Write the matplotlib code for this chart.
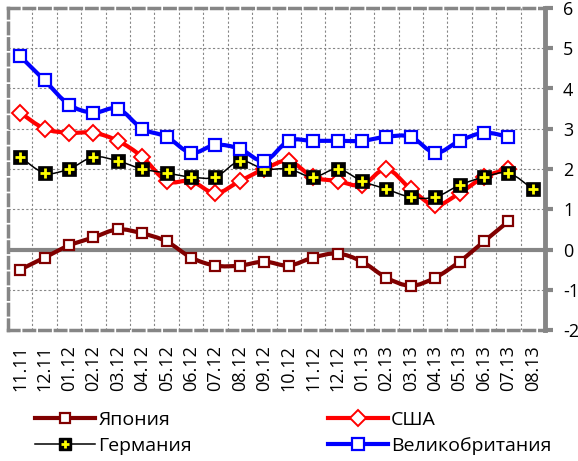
import numpy as np
import matplotlib.pyplot as plt
from matplotlib.path import Path
from matplotlib.patches import PathPatch
from matplotlib.lines import Line2D

plt.rcParams['font.family'] = ['Open Sans', 'DejaVu Sans']
plt.rcParams['axes.unicode_minus'] = False

months = ['11.11', '12.11', '01.12', '02.12', '03.12', '04.12', '05.12', '06.12',
          '07.12', '08.12', '09.12', '10.12', '11.12', '12.12', '01.13', '02.13',
          '03.13', '04.13', '05.13', '06.13', '07.13', '08.13']

japan = [-0.5, -0.2, 0.1, 0.3, 0.5, 0.4, 0.2, -0.2, -0.4, -0.4, -0.3, -0.4,
         -0.2, -0.1, -0.3, -0.7, -0.9, -0.7, -0.3, 0.2, 0.7]
usa = [3.4, 3.0, 2.9, 2.9, 2.7, 2.3, 1.7, 1.7, 1.4, 1.7, 2.0, 2.2,
       1.8, 1.7, 1.6, 2.0, 1.5, 1.1, 1.4, 1.8, 2.0]
germany = [2.3, 1.9, 2.0, 2.3, 2.2, 2.0, 1.9, 1.8, 1.8, 2.2, 2.0, 2.0,
           1.8, 2.0, 1.7, 1.5, 1.3, 1.3, 1.6, 1.8, 1.9, 1.5]
uk = [4.8, 4.2, 3.6, 3.4, 3.5, 3.0, 2.8, 2.4, 2.6, 2.5, 2.2, 2.7,
      2.7, 2.7, 2.7, 2.8, 2.8, 2.4, 2.7, 2.9, 2.8]

GRAY = '#868686'


def smooth_path(values):
    # cubic Bezier segments through every point (Catmull-Rom style)
    pts = np.column_stack([np.arange(len(values)), values]).astype(float)
    n = len(pts)
    verts = [pts[0]]
    codes = [Path.MOVETO]
    for i in range(n - 1):
        p0 = pts[max(i - 1, 0)]
        p1 = pts[i]
        p2 = pts[i + 1]
        p3 = pts[min(i + 2, n - 1)]
        verts += [p1 + (p2 - p0) / 6, p2 - (p3 - p1) / 6, p2]
        codes += [Path.CURVE4] * 3
    return Path(verts, codes)


fig = plt.figure(figsize=(5.78, 4.61), dpi=100)
ax = fig.add_axes([8 / 578, 1 - 330 / 461, 537 / 578, 322 / 461])

ax.set_xlim(-0.5, len(months) - 0.5)
ax.set_ylim(-2, 6)

# grid between categories and at every integer
for xb in np.arange(0.5, len(months) - 0.5, 1):
    ax.axvline(xb, color=GRAY, lw=0.8, ls=(0, (2, 2)), zorder=0)
for yv in range(-1, 6):
    ax.axhline(yv, color=GRAY, lw=0.8, ls=(0, (2, 2)), zorder=0)
ax.axhline(0, color=GRAY, lw=3, zorder=1)

styles = {
    'jp': dict(color='#800000', lw=3, marker='s', ms=7, mfc='white',
               mec='#800000', mew=1.6),
    'us': dict(color='#ff0000', lw=3, marker='D', ms=8, mfc='white',
               mec='#ff0000', mew=1.4),
    'de': dict(color='black', lw=1.1, marker='s', ms=10, mfc='black',
               mec='black', mew=0.5),
    'uk': dict(color='#0000ff', lw=3, marker='s', ms=8, mfc='white',
               mec='#0000ff', mew=1.6),
}
series = [(japan, 'jp'), (usa, 'us'), (germany, 'de'), (uk, 'uk')]

for z, (vals, key) in enumerate(series):
    st = styles[key]
    z0 = 2 + 2 * z
    ax.add_patch(PathPatch(smooth_path(vals), fill=False, edgecolor=st['color'],
                           lw=st['lw'], capstyle='round', joinstyle='round',
                           zorder=z0))
    ax.plot(range(len(vals)), vals, ls='none', marker=st['marker'], ms=st['ms'],
            mfc=st['mfc'], mec=st['mec'], mew=st['mew'], zorder=z0 + 1)
    if key == 'de':
        ax.plot(range(len(vals)), vals, ls='none', marker='+', ms=7, mew=2,
                color='#ffff00', zorder=z0 + 1.5)

ax.set_xticks(range(len(months)))
ax.set_xticklabels(months, rotation=90, fontsize=13)
ax.tick_params(axis='x', length=0, pad=11)

ax.yaxis.tick_right()
ax.set_yticks(range(-2, 7))
ax.tick_params(axis='y', length=6, width=3, color=GRAY, pad=7, labelsize=13,
               direction='out')

ax.spines['right'].set_color(GRAY)
ax.spines['right'].set_linewidth(3.5)
for side in ['left', 'top', 'bottom']:
    ax.spines[side].set_color(GRAY)
    ax.spines[side].set_linewidth(2.5)
    ax.spines[side].set_linestyle((0, (3, 1.5)))

h_jp = Line2D([], [], **styles['jp'])
h_us = Line2D([], [], **styles['us'])
h_de = (Line2D([], [], color='black', lw=1.1, marker='s', ms=8, mfc='black',
               mec='black'),
        Line2D([], [], ls='none', marker='+', ms=6, mew=2, color='#ffff00'))
h_uk = Line2D([], [], **styles['uk'])

legend_kw = dict(loc='upper left', frameon=False, handlelength=3.1,
                 handletextpad=0.15, labelspacing=0.42, borderpad=0,
                 borderaxespad=0, fontsize=14)
fig.legend([h_jp, h_de], ['Япония', 'Германия'],
           bbox_to_anchor=(35 / 578, 1 - 411 / 461), **legend_kw)
fig.legend([h_us, h_uk], ['США', 'Великобритания'],
           bbox_to_anchor=(328 / 578, 1 - 411 / 461), **legend_kw)

fig.savefig('out.png', dpi=100)
